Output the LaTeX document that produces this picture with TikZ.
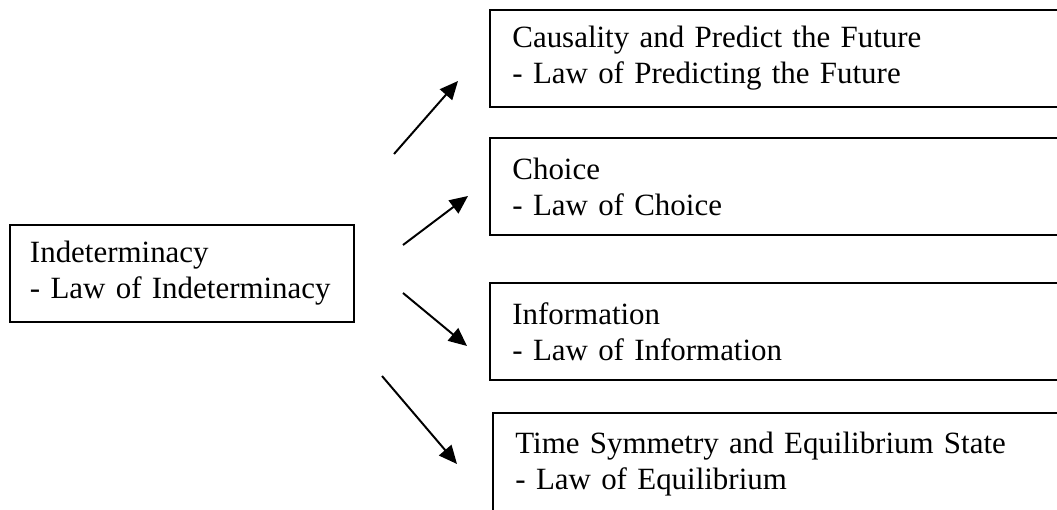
\documentclass[tikz,border=0pt]{standalone}
\usepackage{fontspec}
\setmainfont{Liberation Serif}
\usetikzlibrary{arrows.meta}
\tikzset{
  lawbox/.style={draw, line width=1.4pt, anchor=north west, align=left,
    font=\fontsize{22pt}{25.6pt}\selectfont,
    minimum height=2.425cm},
  leftbox/.style={lawbox, inner xsep=0.5cm, minimum width=8.6cm, text width=7.6cm},
  rightbox/.style={lawbox, inner xsep=0.56cm, minimum width=17.5cm, text width=16.38cm},
  lawarrow/.style={line width=1.4pt, -{Triangle[length=13pt,width=11.5pt]}}
}
\begin{document}
\hyphenpenalty=10000
\begin{tikzpicture}[x=0.025cm,y=-0.025cm]
\clip (0,0) rectangle (1057,510);
\fill[white] (0,0) rectangle (1057,510);

\node[leftbox] (indet) at (9,224) {Indeterminacy\\- Law of Indeterminacy};

\node[rightbox] (causal) at (489,9) {Causality and Predict the Future\\- Law of Predicting the Future};
\node[rightbox] (choice) at (489,137) {Choice\\- Law of Choice};
\node[rightbox] (info) at (489,282) {Information\\- Law of Information};
\node[rightbox, minimum height=2.55cm] (timesym) at (492,412) {Time Symmetry and Equilibrium State\\- Law of Equilibrium};

% arrow ends
\coordinate (t1) at (394,154); \coordinate (h1) at (458,81);
\coordinate (t2) at (403,245); \coordinate (h2) at (468,196);
\coordinate (t3) at (403,293); \coordinate (h3) at (467,346);
\coordinate (t4) at (382,376); \coordinate (h4) at (457,464);
\foreach \n in {1,...,4}{
\draw[lawarrow] (t\n)--(h\n);
}
\end{tikzpicture}
\end{document}
